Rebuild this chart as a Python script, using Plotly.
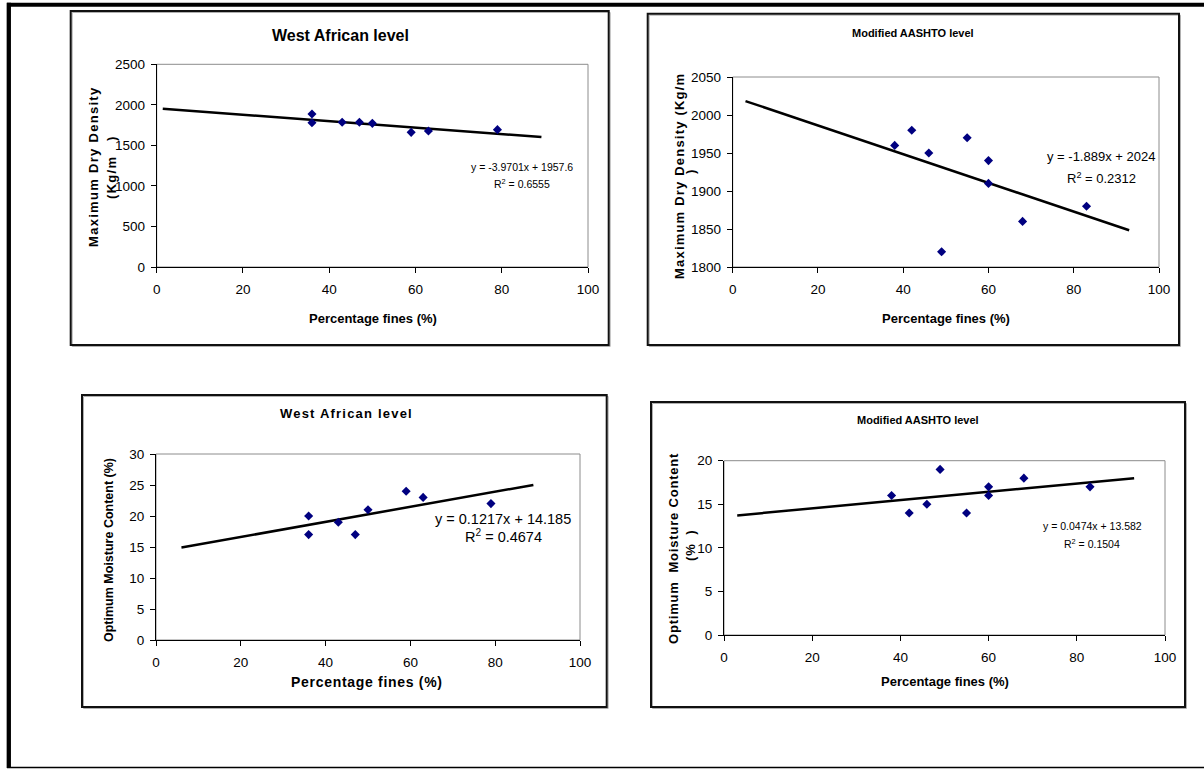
import plotly.graph_objects as go

W, H = 1204, 769

# ---------------- data ----------------
# West African level - maximum dry density
wa_mdd_x = [36, 36, 43, 47, 50, 59, 63, 79]
wa_mdd_y = [1887, 1780, 1785, 1785, 1772, 1661, 1677, 1694]
wa_mdd_coef = [-3.9701, 1957.6]
wa_mdd_trend_x = [1.4, 89.2]

# Modified AASHTO level - maximum dry density
ma_mdd_x = [38, 42, 46, 49, 55, 60, 60, 68, 83]
ma_mdd_y = [1960, 1980, 1950, 1820, 1970, 1940, 1910, 1860, 1880]
ma_mdd_coef = [-1.889, 2024]
ma_mdd_trend_x = [3, 93]

# West African level - optimum moisture content
wa_omc_x = [36, 36, 43, 47, 50, 59, 63, 79]
wa_omc_y = [20, 17, 19, 17, 21, 24, 23, 22]
wa_omc_coef = [0.1217, 14.185]
wa_omc_trend_x = [6, 89]

# Modified AASHTO level - optimum moisture content
ma_omc_x = [38, 42, 46, 49, 55, 60, 60, 68, 83]
ma_omc_y = [16, 14, 15, 19, 14, 17, 16, 18, 17]
ma_omc_coef = [0.0474, 13.582]
ma_omc_trend_x = [3, 93]

x_ticks = [0, 20, 40, 60, 80, 100]

FONT = "Liberation Sans, Arial, sans-serif"


def fx(px):
    return px / W


def fy(py):
    return 1 - py / H


def sp(txt, s):
    return f'<span style="letter-spacing:{s}px">{txt}</span>'


panels = [
    dict(x=wa_mdd_x, y=wa_mdd_y, coef=wa_mdd_coef, tx=wa_mdd_trend_x,
         plot=(156.7, 588, 64.3, 267), box=(70.7, 608.7, 11, 345),
         yrange=[0, 2500], dtick=500, tick_size=13.5,
         title="<b>West African level</b>", title_pos=(340, 36), title_size=16,
         xtitle="<b>Percentage fines (%)</b>", xtitle_pos=(373, 318), xtitle_size=13,
         ytitle=['<b>' + sp("Maximum Dry Density", 1.3) + '</b>',
                 '<b>' + sp("(Kg/m\u00a0\u00a0\u00a0)", 1.3) + '</b>'],
         ytitle_pos=[(94, 167), (112, 167)], ytitle_size=13,
         eq=["y = -3.9701x + 1957.6", "R<sup>2</sup> = 0.6555"],
         eq_pos=[(522, 167), (522, 184)], eq_size=10.5),
    dict(x=ma_mdd_x, y=ma_mdd_y, coef=ma_mdd_coef, tx=ma_mdd_trend_x,
         plot=(732.7, 1159, 77, 267), box=(647.7, 1179, 13.7, 345),
         yrange=[1800, 2050], dtick=50, tick_size=13.5,
         title="<b>Modified AASHTO level</b>", title_pos=(913, 33), title_size=11,
         xtitle="<b>Percentage fines (%)</b>", xtitle_pos=(946, 318), xtitle_size=13,
         ytitle=['<b>' + sp("Maximum Dry Density (Kg/m", 1.2) + '</b>', '<b>)</b>'],
         ytitle_pos=[(679, 176), (691, 172)], ytitle_size=13,
         eq=["y = -1.889x + 2024", "R<sup>2</sup> = 0.2312"],
         eq_pos=[(1101, 157), (1101, 178)], eq_size=13),
    dict(x=wa_omc_x, y=wa_omc_y, coef=wa_omc_coef, tx=wa_omc_trend_x,
         plot=(156, 580, 454, 640), box=(82, 606.7, 395, 707),
         yrange=[0, 30], dtick=5, tick_size=13.5,
         title="<b>" + sp("West African level", 1.2) + "</b>", title_pos=(346, 413), title_size=13,
         xtitle="<b>" + sp("Percentage fines (%)", 0.7) + "</b>", xtitle_pos=(367, 682), xtitle_size=14,
         ytitle=['<b>Optimum Moisture Content (%)</b>'],
         ytitle_pos=[(109, 550)], ytitle_size=12.5,
         eq=["y = 0.1217x + 14.185", "R<sup>2</sup> = 0.4674"],
         eq_pos=[(503, 519), (503, 536)], eq_size=14.5),
    dict(x=ma_omc_x, y=ma_omc_y, coef=ma_omc_coef, tx=ma_omc_trend_x,
         plot=(724, 1165, 460.7, 635), box=(651, 1185, 402, 707),
         yrange=[0, 20], dtick=5, tick_size=13.5,
         title="<b>Modified AASHTO level</b>", title_pos=(918, 420), title_size=11,
         xtitle="<b>Percentage fines (%)</b>", xtitle_pos=(945, 681), xtitle_size=13,
         ytitle=['<b>' + sp("Optimum\u00a0 Moisture Content", 0.8) + '</b>',
                 '<b>' + sp("(%\u00a0\u00a0)", 0.8) + '</b>'],
         ytitle_pos=[(673, 549), (690, 546)], ytitle_size=13,
         eq=["y = 0.0474x + 13.582", "R<sup>2</sup> = 0.1504"],
         eq_pos=[(1092, 526), (1092, 543)], eq_size=10.5),
]

fig = go.Figure()
shapes = []
annotations = []
layout = {}

for i, p in enumerate(panels, start=1):
    xa = "x" if i == 1 else f"x{i}"
    ya = "y" if i == 1 else f"y{i}"
    # trend line from the regression equation printed on the chart
    ty = [p["coef"][0] * v + p["coef"][1] for v in p["tx"]]
    fig.add_trace(go.Scatter(x=p["tx"], y=ty, mode="lines",
                             line=dict(color="black", width=2.5),
                             xaxis=xa, yaxis=ya, showlegend=False, hoverinfo="skip"))
    fig.add_trace(go.Scatter(x=p["x"], y=p["y"], mode="markers",
                             marker=dict(symbol="diamond", size=7, color="#000080",
                                         line=dict(width=0)),
                             xaxis=xa, yaxis=ya, showlegend=False))
    l, r, t, b = p["plot"]
    axcommon = dict(showline=True, linecolor="black", linewidth=1, ticks="outside",
                    ticklen=5, tickcolor="black", tickwidth=1, showgrid=False,
                    zeroline=False, fixedrange=True, automargin=False,
                    tickfont=dict(family=FONT, size=p["tick_size"], color="black"))
    layout["xaxis" if i == 1 else f"xaxis{i}"] = dict(
        domain=[fx(l), fx(r)], range=[0, 100], tickmode="array", tickvals=x_ticks,
        anchor=ya, ticklabelstandoff=5, **axcommon)
    layout["yaxis" if i == 1 else f"yaxis{i}"] = dict(
        domain=[fy(b), fy(t)], range=p["yrange"], dtick=p["dtick"], tick0=p["yrange"][0],
        anchor=xa, ticklabelstandoff=3, **axcommon)
    shapes.append(dict(type="rect", xref=f"{xa} domain", yref=f"{ya} domain",
                       x0=0, x1=1, y0=0, y1=1, line=dict(color="#8c8c8c", width=1),
                       layer="below"))
    bl, br, bt, bb = p["box"]
    # faint shadow then the panel frame
    shapes.append(dict(type="rect", xref="paper", yref="paper",
                       x0=fx(bl + 1.5), x1=fx(br + 1.5), y0=fy(bb + 1.5), y1=fy(bt + 1.5),
                       line=dict(color="#b0b0b0", width=1)))
    shapes.append(dict(type="rect", xref="paper", yref="paper",
                       x0=fx(bl), x1=fx(br), y0=fy(bb), y1=fy(bt),
                       line=dict(color="#111111", width=2)))

    def add(text, pos, size, angle=0):
        annotations.append(dict(text=text, x=fx(pos[0]), y=fy(pos[1]), textangle=angle,
                                xref="paper", yref="paper", showarrow=False,
                                xanchor="center", yanchor="middle",
                                font=dict(family=FONT, size=size, color="black")))
    add(p["title"], p["title_pos"], p["title_size"])
    add(p["xtitle"], p["xtitle_pos"], p["xtitle_size"])
    for txt, pos in zip(p["ytitle"], p["ytitle_pos"]):
        add(txt, pos, p["ytitle_size"], -90)
    for txt, pos in zip(p["eq"], p["eq_pos"]):
        add(txt, pos, p["eq_size"])

# outer frame of the page
shapes.append(dict(type="line", xref="paper", yref="paper", x0=fx(7), x1=1, y0=fy(4.7), y1=fy(4.7),
                   line=dict(color="black", width=4)))
shapes.append(dict(type="line", xref="paper", yref="paper", x0=fx(8.8), x1=fx(8.8), y0=fy(2.7), y1=fy(768),
                   line=dict(color="black", width=4.3)))
shapes.append(dict(type="line", xref="paper", yref="paper", x0=fx(7), x1=1, y0=fy(767.5), y1=fy(767.5),
                   line=dict(color="black", width=1.5)))

fig.update_layout(width=W, height=H, autosize=False,
                  margin=dict(l=0, r=0, t=0, b=0, pad=0, autoexpand=False),
                  paper_bgcolor="white", plot_bgcolor="white",
                  shapes=shapes, annotations=annotations, **layout)

fig.write_html("out.html",
               post_script="document.documentElement.style.margin='0';document.body.style.margin='0';")
